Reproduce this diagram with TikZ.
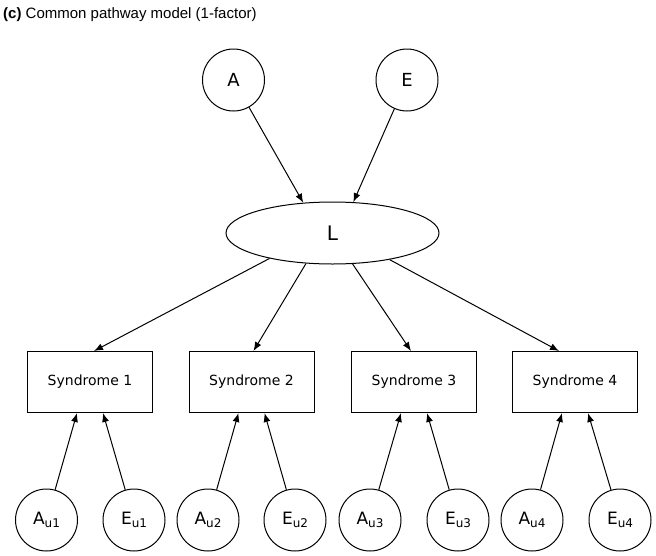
\documentclass[tikz,border=0pt]{standalone}
\usepackage{fontspec}
\setmainfont{DejaVu Sans}
\newfontfamily\titlefont{Liberation Sans}
\usepackage{tikz}
\usetikzlibrary{arrows.meta, shapes.geometric}
\tikzset{>={Latex[length=9pt,width=7pt]}}
\tikzset{
  latent/.style={draw, circle, minimum size=62pt, inner sep=0pt, line width=1pt, font=\fontsize{18}{18}\selectfont},
  factor/.style={draw, ellipse, minimum width=213pt, minimum height=62pt, inner sep=0pt, line width=1pt, font=\fontsize{20}{20}\selectfont},
  syndbox/.style={draw, rectangle, minimum width=125pt, minimum height=61pt, inner sep=0pt, line width=1pt, font=\fontsize{14}{14}\selectfont},
  path/.style={->, line width=1pt}
}
\newcommand{\lowidx}[1]{\raisebox{-3.5pt}{\fontsize{12}{12}\selectfont #1}}

\begin{document}
\begin{tikzpicture}[x=1pt, y=-1pt]
\useasboundingbox (0,0) rectangle (656,555);
\node[anchor=base west, inner sep=0pt, font=\titlefont\fontsize{15}{15}\selectfont] (title) at (3,18) {\textbf{(c)} Common pathway model (1-factor)};

% common factors
\node[latent] (A) at (233.5,80) {A};
\node[latent] (E) at (407,80) {E};
\node[factor] (L) at (332.5,233) {L};
\draw[path] (A) -- (L.134);
\draw[path] (E) -- (L.56);

% syndromes
\node[syndbox] (s1) at (90,382) {Syndrome 1};
\node[syndbox] (s2) at (251.5,382) {Syndrome 2};
\node[syndbox] (s3) at (414,382) {Syndrome 3};
\node[syndbox] (s4) at (575,382) {Syndrome 4};
\draw[path] (L.202) -- ([xshift=4pt]s1.north);
\draw[path] (L.229) -- ([xshift=2pt]s2.north);
\draw[path] (L.303) -- ([xshift=-3pt]s3.north);
\draw[path] (L.335) -- ([xshift=-16pt]s4.north);

% unique factors
\foreach \i/\xa/\xe in {1/46.5/134, 2/208/295, 3/370/458, 4/532/620} {
  \node[latent, font=\fontsize{17}{17}\selectfont] (au\i) at (\xa,520) {A\lowidx{u\i}};
  \node[latent, font=\fontsize{17}{17}\selectfont] (eu\i) at (\xe,520) {E\lowidx{u\i}};
  \draw[path] (au\i) -- ([xshift=-13pt]s\i.south);
  \draw[path] (eu\i) -- ([xshift=13pt]s\i.south);
}
\end{tikzpicture}
\end{document}
